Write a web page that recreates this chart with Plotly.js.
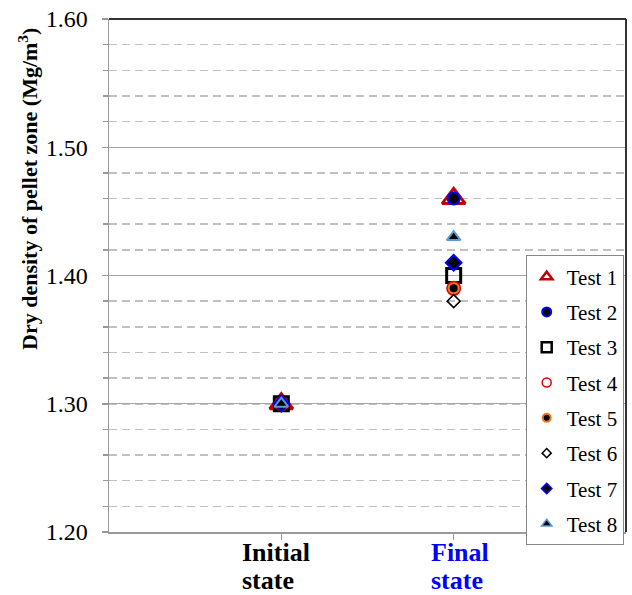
<!DOCTYPE html>
<html>
<head>
<meta charset="utf-8">
<script src="https://cdn.plot.ly/plotly-3.0.1.min.js"></script>
<style>html,body{margin:0;padding:0;background:#fff;}#chart{width:632px;height:595px;}</style>
</head>
<body>
<div id="chart"></div>
<script>
// Data
var stateLine1 = ['Initial', 'Final'];
var stateLine2 = ['state', 'state'];
var stateColors = ['#000000', '#0000ff'];
var statePositions = [1, 2];
var seriesNames = ['Test 1', 'Test 2', 'Test 3', 'Test 4', 'Test 5', 'Test 6', 'Test 7', 'Test 8'];
var test1 = [1.30, 1.46];
var test2 = [1.30, 1.46];
var test3 = [1.30, 1.40];
var test4 = [1.30, 1.39];
var test5 = [1.30, 1.39];
var test6 = [1.30, 1.38];
var test7 = [1.30, 1.41];
var test8 = [1.30, 1.43];
var yTickVals = [1.20, 1.30, 1.40, 1.50, 1.60];

var FONT = '"Liberation Serif", "Times New Roman", serif';
var seriesValues = [test1, test2, test3, test4, test5, test6, test7, test8];
var labelShift = [-41, -25];
var markerStyles = [
  {symbol: 'triangle-up-open', size: 20, color: '#c00000', line: {color: '#c00000', width: 3}},
  {symbol: 'circle', size: 12, color: '#000000', line: {color: '#0000ff', width: 2}},
  {symbol: 'square-open', size: 14, color: '#000000', line: {color: '#000000', width: 3}},
  {symbol: 'circle-open', size: 13, color: '#e00000', line: {color: '#e00000', width: 2}},
  {symbol: 'circle', size: 10, color: '#000000', line: {color: '#f07820', width: 2}},
  {symbol: 'diamond-open', size: 10, color: '#000000', line: {color: '#000000', width: 1.5}},
  {symbol: 'diamond', size: 12, color: '#000000', line: {color: '#0000ff', width: 2}},
  {symbol: 'triangle-up', size: 12, color: '#000000', line: {color: '#5b9bd5', width: 2}}
];
var legendMarkerStyles = [
  {symbol: 'triangle-up-open', size: 10, color: '#c00000', line: {color: '#c00000', width: 2.5}},
  {symbol: 'circle', size: 9, color: '#000000', line: {color: '#0000ff', width: 2}},
  {symbol: 'square-open', size: 10, color: '#000000', line: {color: '#000000', width: 2.5}},
  {symbol: 'circle-open', size: 9, color: '#e00000', line: {color: '#e00000', width: 1.5}},
  {symbol: 'circle', size: 8, color: '#000000', line: {color: '#f07820', width: 2}},
  {symbol: 'diamond-open', size: 7, color: '#000000', line: {color: '#000000', width: 1.5}},
  {symbol: 'diamond', size: 8, color: '#000000', line: {color: '#0000ff', width: 1.5}},
  {symbol: 'triangle-up', size: 9, color: '#000000', line: {color: '#5b9bd5', width: 1.5}}
];

var traces = [];
seriesNames.forEach(function(name, i) {
  traces.push({
    x: statePositions, y: seriesValues[i], name: name,
    legendgroup: 'g' + i, showlegend: false,
    type: 'scatter', mode: 'markers', marker: markerStyles[i], cliponaxis: false
  });
});
seriesNames.forEach(function(name, i) {
  traces.push({
    x: [null], y: [null], name: name,
    legendgroup: 'g' + i, showlegend: true,
    type: 'scatter', mode: 'markers', marker: legendMarkerStyles[i]
  });
});

var annotations = [];
statePositions.forEach(function(p, i) {
  annotations.push({xref: 'x', yref: 'paper', x: p, y: -0.0409, xanchor: 'left', yanchor: 'middle', xshift: labelShift[i], showarrow: false,
    text: '<b>' + stateLine1[i] + '</b>', font: {size: 26, family: FONT, color: stateColors[i]}});
  annotations.push({xref: 'x', yref: 'paper', x: p, y: -0.0955, xanchor: 'left', yanchor: 'middle', xshift: labelShift[i], showarrow: false,
    text: '<b>' + stateLine2[i] + '</b>', font: {size: 26, family: FONT, color: stateColors[i]}});
});
annotations.push({xref: 'paper', yref: 'paper', x: -0.1567, y: 0.6686, xanchor: 'center', yanchor: 'middle',
  textangle: -90, showarrow: false,
  text: '<b>Dry density of pellet zone (Mg/m<sup>3</sup>)</b>', font: {size: 22, family: FONT, color: '#000'}});

var layout = {
  width: 632,
  height: 595,
  margin: {l: 109, r: 6, t: 19, b: 63},
  paper_bgcolor: '#ffffff',
  plot_bgcolor: '#ffffff',
  font: {family: FONT, color: '#000'},
  showlegend: true,
  legend: {
    x: 0.806, y: 0.539, xanchor: 'left', yanchor: 'top',
    bgcolor: '#ffffff', bordercolor: '#888888', borderwidth: 1,
    font: {size: 21, family: FONT, color: '#000'},
    tracegroupgap: 5
  },
  xaxis: {
    range: [0, 3],
    tickvals: statePositions,
    showticklabels: false,
    ticks: 'outside', ticklen: 6, tickcolor: '#999', tickwidth: 1.5,
    showline: true, linecolor: '#999', linewidth: 1.5,
    showgrid: false, zeroline: false
  },
  yaxis: {
    range: [1.2, 1.6],
    tickvals: yTickVals,
    tickformat: '.2f',
    ticks: 'outside', ticklen: 6, tickcolor: '#999', tickwidth: 1.5,
    ticklabelstandoff: 9,
    showline: true, linecolor: '#999', linewidth: 1.5,
    showgrid: true, gridcolor: '#a6a6a6', gridwidth: 1.2,
    zeroline: false,
    tickfont: {size: 24, family: FONT, color: '#000'},
    minor: {dtick: 0.02, showgrid: true, gridcolor: '#c0c0c0', griddash: '8px,5px', gridwidth: 1.5, ticks: 'outside', ticklen: 5, tickcolor: '#999'}
  },
  annotations: annotations,
  shapes: [
    {type: 'line', xref: 'paper', yref: 'paper', x0: 0, x1: 1, y0: 1, y1: 1, line: {color: '#333333', width: 2}},
    {type: 'line', xref: 'paper', yref: 'paper', x0: 1, x1: 1, y0: 0, y1: 1, line: {color: '#333333', width: 2}}
  ]
};

Plotly.newPlot('chart', traces, layout, {displayModeBar: false, staticPlot: true});
</script>
</body>
</html>
